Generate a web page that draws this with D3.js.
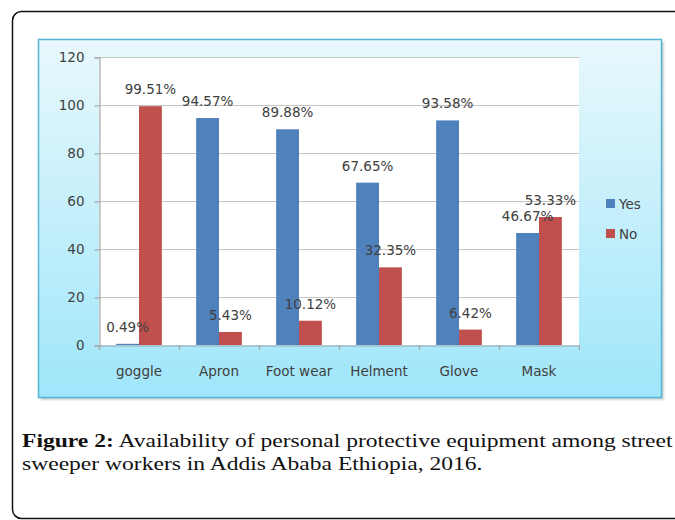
<!DOCTYPE html>
<html>
<head>
<meta charset="utf-8">
<script src="https://cdn.jsdelivr.net/npm/d3@7"></script>
<style>
  html, body { margin: 0; padding: 0; background: #fff; }
  svg { display: block; }
</style>
</head>
<body>
<svg id="chart" width="675" height="520"></svg>
<script>
const categories = ["goggle", "Apron", "Foot wear", "Helment", "Glove", "Mask"];
const seriesNames = ["Yes", "No"];
const yesValues = [0.49, 94.57, 89.88, 67.65, 93.58, 46.67];
const noValues = [99.51, 5.43, 10.12, 32.35, 6.42, 53.33];
const yTicks = [0, 20, 40, 60, 80, 100, 120];
const captionBold = "Figure 2:";
const captionLine1 = " Availability of personal protective equipment among street";
const captionLine2 = "sweeper workers in Addis Ababa Ethiopia, 2016.";

const colors = { Yes: "#4f81bd", No: "#c0504d" };
const svg = d3.select("#chart");
const font = "'DejaVu Sans', sans-serif";
const textColor = "#404040";

// outer frame
svg.append("rect")
  .attr("x", 12.5).attr("y", 11.5).attr("width", 720).attr("height", 507)
  .attr("rx", 9).attr("fill", "none").attr("stroke", "#111").attr("stroke-width", 1.5);

// panel gradient + shadow
const defs = svg.append("defs");
const grad = defs.append("linearGradient").attr("id", "panelGrad")
  .attr("x1", 0).attr("y1", 0).attr("x2", 0).attr("y2", 1);
grad.append("stop").attr("offset", "0%").attr("stop-color", "#e8f8fc");
grad.append("stop").attr("offset", "100%").attr("stop-color", "#9fe6fa");

const shadow = defs.append("filter").attr("id", "shadow")
  .attr("x", "-5%").attr("y", "-5%").attr("width", "110%").attr("height", "110%");
shadow.append("feGaussianBlur").attr("stdDeviation", 1.2);

svg.append("rect")
  .attr("x", 40.5).attr("y", 41.5).attr("width", 623).attr("height", 358)
  .attr("fill", "#8a9aa0").attr("opacity", 0.6).attr("filter", "url(#shadow)");

svg.append("rect")
  .attr("x", 38.5).attr("y", 39.5).attr("width", 623).attr("height", 358)
  .attr("fill", "url(#panelGrad)").attr("stroke", "#56b6d2").attr("stroke-width", 1.5);

const plot = { left: 99, right: 579, top: 57, bottom: 345 };

// plot area background
svg.append("rect")
  .attr("x", plot.left).attr("y", plot.top)
  .attr("width", plot.right - plot.left).attr("height", plot.bottom - plot.top)
  .attr("fill", "#fff");

const y = d3.scaleLinear().domain([0, 120]).range([plot.bottom, plot.top]);
const x0 = d3.scaleBand().domain(categories).range([plot.left, plot.right]).padding(0);
const x1 = d3.scaleBand().domain(seriesNames).range([0, x0.bandwidth()])
  .paddingInner(0).paddingOuter(0.75);

// gridlines
svg.append("g").selectAll("line").data(yTicks.filter(t => t > 0)).join("line")
  .attr("x1", plot.left).attr("x2", plot.right)
  .attr("y1", d => Math.round(y(d)) + 0.5).attr("y2", d => Math.round(y(d)) + 0.5)
  .attr("stroke", "#c4c4c4").attr("stroke-width", 1.2);

// y axis
const yAxis = svg.append("g")
  .attr("transform", `translate(${plot.left + 0.5},0.5)`)
  .call(d3.axisLeft(y).tickValues(yTicks).tickSize(5).tickPadding(10));
yAxis.select(".domain").attr("stroke", "#a6a6a6").attr("stroke-width", 1.2);
yAxis.selectAll(".tick line").attr("stroke", "#a6a6a6").attr("stroke-width", 1.2);
yAxis.selectAll(".tick text")
  .attr("font-family", font).attr("font-size", "13.5px").attr("fill", textColor);

// bars
const data = categories.map((c, i) => ({ cat: c, vals: [
  { key: "Yes", value: yesValues[i] },
  { key: "No", value: noValues[i] }
]}));

const groups = svg.append("g").selectAll("g").data(data).join("g")
  .attr("transform", d => `translate(${x0(d.cat)},0)`);

groups.selectAll("rect").data(d => d.vals).join("rect")
  .attr("x", d => x1(d.key))
  .attr("y", d => y(d.value))
  .attr("width", x1.bandwidth())
  .attr("height", d => y(0) - y(d.value))
  .attr("fill", d => colors[d.key]);

// x axis
const xAxis = svg.append("g")
  .attr("transform", `translate(0,${plot.bottom + 0.5})`)
  .call(d3.axisBottom(x0).tickSize(0).tickPadding(21).tickSizeOuter(0));
xAxis.select(".domain").attr("stroke", "#a6a6a6").attr("stroke-width", 1.2);
xAxis.selectAll(".tick text")
  .attr("font-family", font).attr("font-size", "13.5px").attr("fill", textColor);
// category boundary ticks
const boundaries = categories.map(c => x0(c)).concat([plot.right]);
svg.append("g").selectAll("line").data(boundaries).join("line")
  .attr("x1", d => Math.round(d) + 0.5).attr("x2", d => Math.round(d) + 0.5)
  .attr("y1", plot.bottom).attr("y2", plot.bottom + 5)
  .attr("stroke", "#a6a6a6").attr("stroke-width", 1.2);

// data labels
groups.selectAll("text.lbl").data(d => d.vals).join("text")
  .attr("class", "lbl")
  .attr("x", d => x1(d.key) + x1.bandwidth() / 2)
  .attr("y", d => y(d.value) - 12)
  .attr("text-anchor", "middle")
  .attr("font-family", font).attr("font-size", "13.5px").attr("fill", textColor)
  .text(d => d.value.toFixed(2) + "%");

// legend
const legend = svg.append("g").selectAll("g").data(seriesNames).join("g")
  .attr("transform", (d, i) => `translate(606,${199 + i * 30})`);
legend.append("rect").attr("width", 9).attr("height", 9).attr("fill", d => colors[d]);
legend.append("text").attr("x", 13).attr("y", 10)
  .attr("font-family", font).attr("font-size", "13.5px").attr("fill", textColor)
  .text(d => d);

// caption
const serif = "'Liberation Serif', 'Times New Roman', serif";
const cap = svg.append("g");
const t1 = cap.append("text").attr("x", 0).attr("y", 0)
  .attr("font-family", serif).attr("font-size", "18.5px").attr("fill", "#111");
t1.append("tspan").attr("font-weight", "bold").text(captionBold);
t1.append("tspan").text(captionLine1);
const t2 = cap.append("text").attr("x", 0).attr("y", 0)
  .attr("font-family", serif).attr("font-size", "18.5px").attr("fill", "#111")
  .text(captionLine2);
const w1 = t1.node().getComputedTextLength();
const sx = 651 / w1;
t1.attr("transform", `translate(22,447) scale(${sx},1)`);
t2.attr("transform", `translate(22,470) scale(${sx},1)`);
</script>
</body>
</html>
